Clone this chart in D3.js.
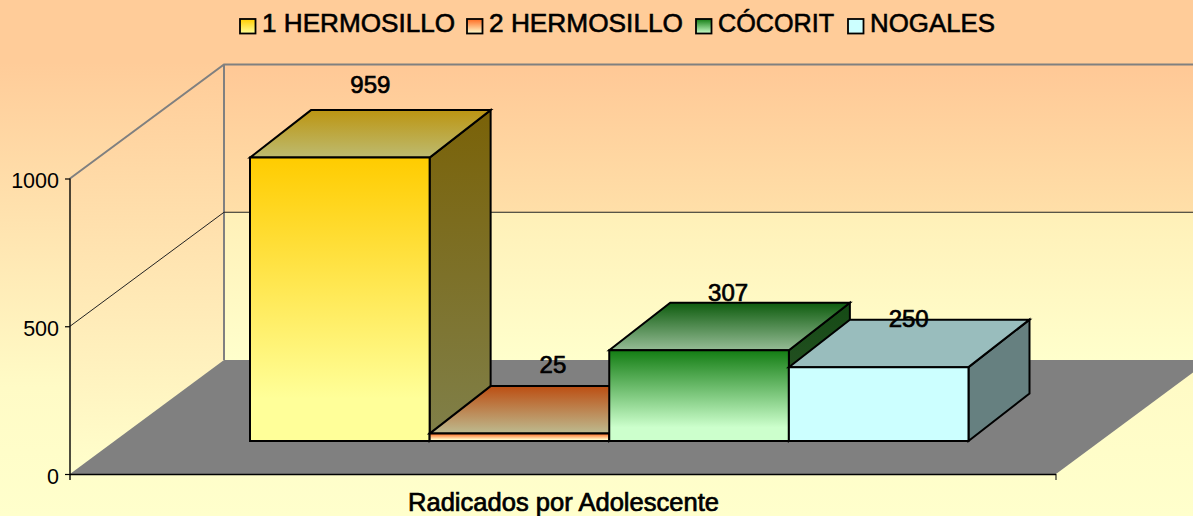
<!DOCTYPE html>
<html><head><meta charset="utf-8">
<script src="https://cdn.jsdelivr.net/npm/d3@7"></script>
<style>html,body{margin:0;padding:0;background:#fff}svg{display:block}
text{font-family:"Liberation Sans",Arial,sans-serif;fill:#000}</style></head>
<body><svg id="c" width="1193" height="516"></svg>
<script>
const categories = ["1 HERMOSILLO", "2 HERMOSILLO", "CÓCORIT", "NOGALES"];
const values = [959, 25, 307, 250];
const yTicks = [0, 500, 1000];
const axisTitle = "Radicados por Adolescente";
const frontGrad = [["#FFCC00","#FFFF99"],["#FF6A20","#FFFFD0"],["#137D13","#CCFFCC"],["#CCFFFF","#CCFFFF"]];
const topGrad = [["#BC9512","#BDBB70"],["#BC4E12","#BDBB90"],["#0E5C0E","#96BC96"],["#99BDBD","#99BDBD"]];
const sideGrad = [["#7A6208","#80804A"],["#7F6A1A","#80804A"],["#144A14","#33552F"],["#668080","#668080"]];

const W = 1193, H = 516;
const svg = d3.select("#c");
const defs = svg.append("defs");
function grad(id, stops){
  const g = defs.append("linearGradient").attr("id", id).attr("x1",0).attr("y1",0).attr("x2",0).attr("y2",1);
  stops.forEach(([o,c])=>g.append("stop").attr("offset",o).attr("stop-color",c));
  return `url(#${id})`;
}
const line = d3.line();
const closed = pts => line(pts) + "Z";

// background
svg.append("rect").attr("width",W).attr("height",H)
  .attr("fill", grad("bg",[[0,"#FFCC99"],[0.12,"#FFCC99"],[0.75,"#FFFBC6"],[1,"#FFFFCC"]]));

// scene scales
const yOuter = d3.scaleLinear().domain([0,1000]).range([474,178.5]);
const xOuter = [70,1056];
const depth = {dx:154, dy:-114};
const barBase = 441, barDepth = {dx:61, dy:-47.5};
const yH = v => yOuter(0) - yOuter(v);
const x = d3.scaleBand().domain(categories).range([250,968.5]).paddingInner(0);

// back wall, left wall, floor
const wallTop = yOuter(1000)+depth.dy, floorBack = yOuter(0)+depth.dy;
const wallFill = grad("wall",[[0,"#FFC896"],[0.5,"#FFDFA8"],[0.5,"#FFF0B8"],[1,"#FFFFCC"]]);
svg.append("path").attr("d",closed([[224,wallTop],[W+20,wallTop],[W+20,floorBack],[224,floorBack]])).attr("fill",wallFill);
svg.append("path").attr("d",closed([[xOuter[0],yOuter(1000)],[224,wallTop],[224,floorBack],[xOuter[0],yOuter(0)]])).attr("fill",grad("lwall",[[0,"#FFCC99"],[1,"#FFFFCC"]]));
svg.append("path").attr("d",closed([[xOuter[0],yOuter(0)],[xOuter[1],yOuter(0)],[xOuter[1]+depth.dx,floorBack],[224,floorBack]])).attr("fill","#808080");

// wall edges
svg.append("path").attr("d",line([[xOuter[0],yOuter(1000)],[224,wallTop],[W+20,wallTop]])).attr("fill","none").attr("stroke","#808080").attr("stroke-width",2);
svg.append("path").attr("d",line([[224,wallTop],[224,floorBack]])).attr("fill","none").attr("stroke","#808080").attr("stroke-width",2);
// grid
svg.append("path").attr("d",line([[xOuter[0],yOuter(500)],[224,yOuter(500)+depth.dy],[W+20,yOuter(500)+depth.dy]])).attr("fill","none").attr("stroke","#222").attr("stroke-width",1);

// axes
const axis = d3.axisLeft(yOuter).tickValues(yTicks).tickSize(5).tickPadding(6).tickFormat(d3.format("d"));
const ax = svg.append("g").attr("transform","translate(70,0)").call(axis);
ax.select(".domain").attr("d",line([[0,yOuter(1000)],[0,yOuter(0)+6]])).attr("stroke","#000").attr("stroke-width",1.4);
ax.selectAll("line").attr("stroke","#000").attr("stroke-width",1.2);
ax.selectAll("text").attr("font-size",21.5).attr("dy","0.42em").style("font-family",'"Liberation Sans",Arial,sans-serif');
svg.append("path").attr("d",line([[70,474.5],[1056,474.5]])).attr("stroke","#000").attr("stroke-width",1.5).attr("fill","none");
svg.append("path").attr("d",line([[1056,474],[1056,480]])).attr("stroke","#000").attr("stroke-width",1).attr("fill","none");

// bars
const labelLift = [26, 22, 10, 1];
const labelShift = [0, 3, -1.5, -0.5];
categories.forEach((c,i)=>{
  const x0 = x(c), x1 = x0 + x.bandwidth(), t = barBase - yH(values[i]);
  const d = barDepth, g = svg.append("g").attr("stroke","#000").attr("stroke-width",2).attr("stroke-linejoin","miter");
  g.append("path").attr("d",closed([[x1,barBase],[x1+d.dx,barBase+d.dy],[x1+d.dx,t+d.dy],[x1,t]])).attr("fill",grad("side"+i,[[0,sideGrad[i][0]],[1,sideGrad[i][1]]]));
  g.append("path").attr("d",closed([[x0,t],[x1,t],[x1+d.dx,t+d.dy],[x0+d.dx,t+d.dy]])).attr("fill",grad("top"+i,[[0,topGrad[i][0]],[1,topGrad[i][1]]]));
  g.append("path").attr("d",closed([[x0,t],[x1,t],[x1,barBase],[x0,barBase]])).attr("fill",grad("front"+i,[[0,frontGrad[i][0]],[0.85,frontGrad[i][1]],[1,frontGrad[i][1]]]));
});
categories.forEach((c,i)=>{
  const t = barBase - yH(values[i]);
  svg.append("text").attr("class","val").attr("x",x(c)+x.bandwidth()/2+barDepth.dx/2+labelShift[i])
    .attr("y",t+barDepth.dy-labelLift[i]).attr("dy","0.35em").attr("text-anchor","middle")
    .attr("font-size",24).attr("stroke","#000").attr("stroke-width",0.7).text(values[i]);
});

// category title
svg.append("text").attr("x",563.5).attr("y",511).attr("text-anchor","middle").attr("font-size",25).attr("textLength",311).attr("lengthAdjust","spacingAndGlyphs").attr("stroke","#000").attr("stroke-width",0.7).text(axisTitle);

// legend
const legendX = [240,467,696,848];
const legendLen = [193,194,116,125];
categories.forEach((c,i)=>{
  svg.append("rect").attr("x",legendX[i]).attr("y",19).attr("width",15.5).attr("height",14.5).attr("stroke","#000").attr("stroke-width",1.8)
    .attr("fill",grad("lg"+i,[[0,frontGrad[i][0]],[1,frontGrad[i][1]]]));
  svg.append("text").attr("x",legendX[i]+22).attr("y",32).attr("font-size",25.8).attr("textLength",legendLen[i]).attr("lengthAdjust","spacingAndGlyphs").attr("stroke","#000").attr("stroke-width",0.6).text(c);
});
</script></body></html>
